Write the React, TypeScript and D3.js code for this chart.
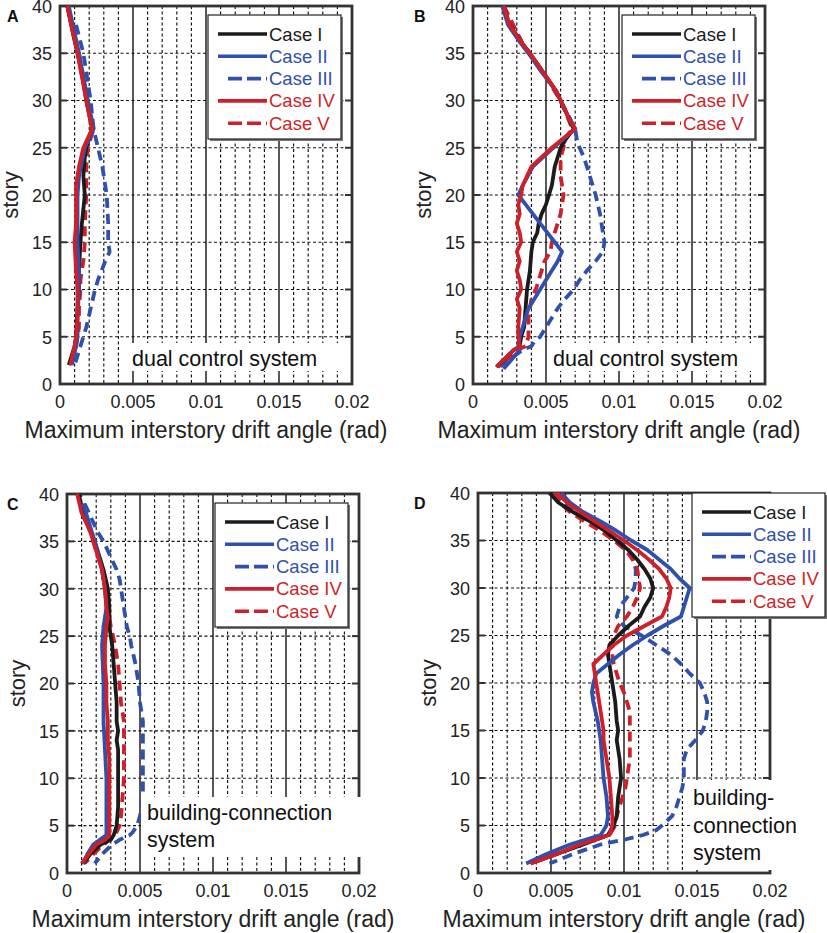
import React from 'react';
import * as d3 from 'd3';

type Pt = [number, number]; // [story, drift angle (rad)]

// ---- A: dual control system (small input) ----
const aCase1: Pt[] = [[40, 0.0005], [37, 0.0009], [35, 0.0012], [32, 0.0016], [30, 0.0018], [27, 0.0022], [25, 0.0018], [24, 0.0017], [22, 0.0016], [20, 0.0017], [17, 0.0015], [15, 0.0014], [12, 0.0013], [10, 0.0013], [8, 0.0012], [5, 0.0011], [4, 0.001], [2, 0.0006]];
const aCase2: Pt[] = [[40, 0.0006], [35, 0.0013], [30, 0.0019], [27, 0.0023], [25, 0.0017], [22, 0.0013], [20, 0.0012], [15, 0.0012], [12, 0.0013], [10, 0.0013], [7, 0.0012], [5, 0.0012], [4, 0.0011], [2, 0.0008]];
const aCase3: Pt[] = [[38, 0.0011], [35, 0.0016], [32, 0.0019], [30, 0.0021], [27, 0.0023], [25, 0.0026], [23, 0.0029], [21, 0.0031], [20, 0.0032], [17, 0.0033], [15, 0.0033], [14, 0.0034], [13, 0.0031], [11, 0.0026], [10, 0.0024], [8, 0.0021], [6, 0.0018], [5, 0.0016], [4, 0.0014], [2, 0.001]];
const aCase4: Pt[] = [[40, 0.0005], [35, 0.0012], [30, 0.0018], [27, 0.0022], [26, 0.0019], [25, 0.0016], [23, 0.0013], [21, 0.0011], [20, 0.0011], [17, 0.0011], [15, 0.001], [12, 0.0011], [10, 0.0012], [7, 0.0012], [5, 0.0011], [4, 0.001], [2, 0.0007]];
const aCase5: Pt[] = [[40, 0.0005], [35, 0.0013], [30, 0.0019], [27, 0.0023], [26, 0.0021], [25, 0.0019], [23, 0.0018], [21, 0.0018], [20, 0.0018], [17, 0.0017], [15, 0.0017], [13, 0.0016], [11, 0.0014], [10, 0.0014], [8, 0.0013], [6, 0.0013], [5, 0.0012], [4, 0.0011], [2, 0.0007]];

// ---- B: dual control system (large input) ----
const bCase1: Pt[] = [[40, 0.0021], [38, 0.0025], [36, 0.0034], [35, 0.0039], [33, 0.0048], [31, 0.0057], [30, 0.006], [28, 0.0066], [27, 0.0069], [26, 0.0064], [25, 0.006], [24, 0.0058], [23, 0.0056], [22, 0.0055], [21, 0.0054], [20, 0.0052], [19, 0.005], [18, 0.0047], [17, 0.0045], [16, 0.0044], [15, 0.0041], [14, 0.004], [12, 0.0039], [10, 0.0037], [8, 0.0036], [6, 0.0035], [5, 0.0033], [4, 0.0032], [3.6, 0.0028], [1.8, 0.0016]];
const bCase2: Pt[] = [[40, 0.002], [38, 0.0024], [36, 0.0033], [35, 0.0038], [33, 0.0047], [31, 0.0057], [30, 0.006], [28, 0.0066], [27, 0.007], [25, 0.0055], [23, 0.0041], [21, 0.0034], [20, 0.0031], [19, 0.0036], [17, 0.0046], [15, 0.0056], [14, 0.0061], [13, 0.0058], [11, 0.005], [10, 0.0046], [8, 0.0038], [6, 0.0034], [5, 0.0032], [4, 0.0031], [3.6, 0.0032], [1.6, 0.0021]];
const bCase3: Pt[] = [[40, 0.0021], [36, 0.0034], [33, 0.0048], [30, 0.006], [27, 0.007], [26, 0.0071], [25, 0.0073], [24, 0.0076], [23, 0.0078], [22, 0.008], [21, 0.0082], [20, 0.0084], [18, 0.0087], [17, 0.0088], [16, 0.0089], [15, 0.009], [14, 0.0089], [13, 0.0084], [12, 0.0078], [11, 0.0073], [10, 0.0069], [9, 0.0063], [8, 0.0058], [7, 0.0054], [6, 0.005], [5, 0.0046], [4.5, 0.0042], [4, 0.004], [3.6, 0.0034], [1.8, 0.0018]];
const bCase4: Pt[] = [[40, 0.0021], [38, 0.0025], [36, 0.0034], [35, 0.0039], [33, 0.0048], [31, 0.0057], [30, 0.006], [28, 0.0066], [27, 0.007], [25, 0.0054], [23, 0.004], [21, 0.0034], [20, 0.0033], [19, 0.0031], [18, 0.0032], [17, 0.003], [16, 0.0032], [15, 0.0033], [14, 0.003], [13, 0.0032], [12, 0.003], [11, 0.0032], [10, 0.0033], [9, 0.003], [8, 0.0032], [6, 0.0031], [5, 0.0031], [4, 0.0032], [3.9, 0.0032], [3.6, 0.0028], [1.8, 0.0016]];
const bCase5: Pt[] = [[40, 0.0021], [36, 0.0034], [33, 0.0048], [30, 0.006], [27, 0.0068], [26, 0.0063], [25, 0.0062], [24, 0.006], [22, 0.006], [20, 0.0062], [19, 0.0061], [18, 0.006], [17, 0.0058], [16, 0.0056], [15, 0.0054], [14, 0.0053], [13, 0.0049], [12, 0.0047], [11, 0.0045], [10, 0.0043], [9, 0.004], [8, 0.0039], [7, 0.0038], [6, 0.0038], [5, 0.0038], [4, 0.0036], [3.6, 0.003], [1.8, 0.0017]];

// ---- C: building-connection system (small input) ----
const cCase1: Pt[] = [[40, 0.0008], [38, 0.0011], [35, 0.0019], [32, 0.0025], [30, 0.0028], [28, 0.0029], [26, 0.0029], [24, 0.0031], [22, 0.0032], [20, 0.0033], [18, 0.0034], [16, 0.0034], [15, 0.0035], [14, 0.0034], [13, 0.0035], [10, 0.0035], [7, 0.0035], [5, 0.0034], [4, 0.0032], [3.5, 0.003], [3, 0.0023], [2, 0.0016], [1, 0.0011]];
const cCase2: Pt[] = [[39, 0.0011], [35, 0.0019], [32, 0.0024], [30, 0.0026], [28, 0.0027], [26, 0.0025], [24, 0.0024], [20, 0.0025], [16, 0.0025], [13, 0.0026], [10, 0.0027], [7, 0.0027], [5, 0.0027], [4, 0.0027], [3, 0.0018], [2, 0.0014], [1, 0.0011]];
const cCase3: Pt[] = [[39, 0.0012], [38, 0.0015], [36, 0.0021], [35, 0.0025], [34, 0.0028], [33, 0.0031], [32, 0.0034], [31, 0.0036], [30, 0.0037], [28, 0.0039], [27, 0.004], [26, 0.0041], [25, 0.0043], [24, 0.0044], [22, 0.0047], [21, 0.0048], [20, 0.0049], [18, 0.005], [17, 0.0051], [16, 0.0052], [14, 0.0052], [12, 0.0052], [10, 0.0052], [8, 0.0052], [6, 0.005], [5, 0.0048], [4.3, 0.0045], [4, 0.0043], [3.5, 0.0036], [3, 0.0031], [2, 0.0024], [1, 0.0019]];
const cCase4: Pt[] = [[40, 0.0007], [38, 0.001], [36, 0.0016], [34, 0.002], [32, 0.0024], [30, 0.0026], [28, 0.0027], [27, 0.0028], [26, 0.0027], [24, 0.0026], [22, 0.0026], [20, 0.0027], [18, 0.0027], [16, 0.0028], [14, 0.0028], [12, 0.0029], [10, 0.0029], [6, 0.0029], [4, 0.0029], [3.5, 0.0026], [3, 0.002], [2, 0.0015], [1, 0.001]];
const cCase5: Pt[] = [[40, 0.0007], [36, 0.0016], [32, 0.0024], [30, 0.0026], [28, 0.0028], [26, 0.003], [24, 0.0033], [22, 0.0035], [20, 0.0036], [18, 0.0037], [16, 0.0039], [14, 0.0039], [12, 0.0039], [10, 0.0039], [8, 0.0038], [6, 0.0037], [5, 0.0036], [4, 0.0033], [3, 0.0025], [2, 0.0018], [1, 0.0012]];

// ---- D: building-connection system (large input) ----
const dCase1: Pt[] = [[40, 0.0049], [39, 0.0055], [38, 0.0065], [37, 0.0077], [36, 0.0087], [35, 0.0095], [34, 0.0103], [33, 0.0109], [32, 0.0114], [31, 0.0118], [30, 0.012], [29, 0.0118], [28, 0.0114], [27, 0.0111], [26, 0.0103], [25, 0.0096], [24, 0.009], [23, 0.0089], [22, 0.009], [20, 0.0092], [18, 0.0094], [16, 0.0095], [15, 0.0096], [14, 0.0095], [12, 0.0097], [10, 0.0098], [9, 0.0097], [8, 0.0096], [6, 0.0095], [5, 0.0093], [4, 0.0089], [3, 0.0072], [2, 0.0054], [1, 0.0036]];
const dCase2: Pt[] = [[40, 0.0057], [39, 0.0063], [38, 0.0072], [37, 0.0084], [36, 0.0095], [35, 0.0105], [34, 0.0116], [33, 0.0124], [32, 0.0132], [31, 0.0138], [30, 0.0145], [29, 0.0143], [28, 0.0141], [27, 0.0139], [26, 0.0127], [25, 0.0116], [24, 0.0106], [23, 0.0097], [22, 0.0089], [21, 0.0081], [20, 0.0079], [19, 0.0078], [18, 0.0079], [16, 0.0082], [15, 0.0083], [14, 0.0084], [12, 0.0085], [10, 0.0086], [8, 0.0088], [6, 0.0089], [5, 0.0088], [4, 0.0084], [3, 0.0063], [2, 0.0047], [1, 0.0033]];
const dCase3: Pt[] = [[40, 0.0052], [39, 0.0057], [38, 0.0066], [37, 0.0078], [36, 0.0088], [35, 0.0096], [34, 0.0103], [33, 0.0106], [32, 0.0108], [31, 0.0108], [30, 0.0107], [29, 0.0102], [28, 0.0097], [27, 0.0095], [26, 0.01], [25, 0.0112], [24, 0.0122], [23, 0.0132], [22, 0.0139], [21, 0.0145], [20, 0.0152], [19, 0.0155], [18, 0.0157], [17, 0.0157], [16, 0.0156], [15, 0.0154], [14, 0.0149], [13, 0.0143], [12, 0.0141], [10, 0.0141], [9, 0.014], [8, 0.0138], [7, 0.0136], [6, 0.0133], [5, 0.0126], [4.5, 0.0122], [4, 0.0113], [3.5, 0.01], [3, 0.0084], [2, 0.0065], [1, 0.0049]];
const dCase4: Pt[] = [[40, 0.0054], [39, 0.0061], [38, 0.007], [37, 0.008], [36, 0.009], [35, 0.01], [34, 0.0109], [33, 0.0117], [32, 0.0124], [31, 0.0129], [30, 0.0132], [29, 0.0131], [28, 0.0129], [27, 0.0126], [26, 0.0114], [25, 0.0102], [24, 0.0093], [23, 0.0086], [22, 0.0079], [21, 0.008], [20, 0.0081], [18, 0.0083], [16, 0.0085], [15, 0.0086], [14, 0.0086], [12, 0.0088], [10, 0.009], [8, 0.0091], [6, 0.0092], [5, 0.0092], [4, 0.009], [3, 0.007], [2, 0.0054], [1, 0.0036]];
const dCase5: Pt[] = [[40, 0.0052], [39, 0.0056], [38, 0.0063], [37, 0.0073], [36, 0.0084], [35, 0.0093], [34, 0.0101], [33, 0.0106], [32, 0.0109], [31, 0.011], [30, 0.0111], [29, 0.0109], [28, 0.0106], [27, 0.0102], [26, 0.0096], [25, 0.0093], [24, 0.0092], [23, 0.0092], [22, 0.0093], [21, 0.0095], [20, 0.0097], [19, 0.01], [18, 0.0102], [17, 0.0104], [16, 0.0104], [14, 0.0104], [12, 0.0104], [10, 0.0102], [9, 0.0101], [8, 0.0099], [7, 0.0097], [6, 0.0095], [5, 0.0094], [4, 0.009], [3, 0.007], [2, 0.0054], [1, 0.0036]];

const caseNames = ['Case I', 'Case II', 'Case III', 'Case IV', 'Case V'];
const caseColors = ['#1b1b1b', '#2f50ad', '#2f50ad', '#cf1f28', '#cf1f28'];
const caseDashed = [false, false, true, false, true];
const drawOrder = [2, 4, 0, 1, 3];

const xTicks = [0, 0.005, 0.01, 0.015, 0.02];
const xTickLabels = ['0', '0.005', '0.01', '0.015', '0.02'];
const yTicks = [0, 5, 10, 15, 20, 25, 30, 35, 40];
const xTitle = 'Maximum interstory drift angle (rad)';
const yTitle = 'story';

const FONT = '"Liberation Sans", Arial, Helvetica, sans-serif';

interface PanelDef {
  letter: string;
  left: number; top: number; right: number; bottom: number;
  series: Pt[][];
  note: string[];
  noteBox: [number, number, number, number]; // x, y, w, h relative to left/bottom
  noteX: number;
  noteBase: number[];
  legendX: number; legendY: number;
}

const panels: PanelDef[] = [
  { letter: 'A', left: 60, top: 6, right: 352, bottom: 384, series: [aCase1, aCase2, aCase3, aCase4, aCase5],
    note: ['dual control system'], noteBox: [68, -41, 212, 28], noteX: 72, noteBase: [-18], legendX: 148, legendY: 9 },
  { letter: 'B', left: 473, top: 6, right: 765, bottom: 384, series: [bCase1, bCase2, bCase3, bCase4, bCase5],
    note: ['dual control system'], noteBox: [76, -41, 212, 28], noteX: 80, noteBase: [-18], legendX: 149, legendY: 9 },
  { letter: 'C', left: 67, top: 494, right: 359, bottom: 873, series: [cCase1, cCase2, cCase3, cCase4, cCase5],
    note: ['building-connection', 'system'], noteBox: [74, -76, 223, 60], noteX: 80, noteBase: [-53, -26], legendX: 148, legendY: 9 },
  { letter: 'D', left: 478, top: 493, right: 770, bottom: 873, series: [dCase1, dCase2, dCase3, dCase4, dCase5],
    note: ['building-', 'connection', 'system'], noteBox: [212, -93, 122, 90], noteX: 215, noteBase: [-68, -40, -13], legendX: 214, legendY: 0 },
];

const Panel: React.FC<{ p: PanelDef }> = ({ p }) => {
  const x = d3.scaleLinear().domain([0, 0.02]).range([p.left, p.right]);
  const y = d3.scaleLinear().domain([0, 40]).range([p.bottom, p.top]);
  const line = d3.line<Pt>().x(d => x(d[1])).y(d => y(d[0])).curve(d3.curveLinear);
  const minor = d3.range(1, 20).map(i => i * 0.001).filter(v => Math.abs((v / 0.005) - Math.round(v / 0.005)) > 1e-6);
  const majorInner = xTicks.slice(1, -1);
  const lx = p.left + p.legendX;
  const ly = p.top + p.legendY;
  const lw = 133;
  const lh = 124;

  return (
    <g>
      {/* minor dashed grid */}
      {minor.map(v => (
        <line key={'mx' + v} x1={x(v)} x2={x(v)} y1={p.top} y2={p.bottom} stroke="#111" strokeWidth={1.15} strokeDasharray="3,2.5" />
      ))}
      {yTicks.slice(1, -1).map(s => (
        <line key={'gy' + s} x1={p.left} x2={p.right} y1={y(s)} y2={y(s)} stroke="#111" strokeWidth={1.15} strokeDasharray="3,2.5" />
      ))}
      {majorInner.map(v => (
        <line key={'Mx' + v} x1={x(v)} x2={x(v)} y1={p.top} y2={p.bottom} stroke="#111" strokeWidth={1.4} />
      ))}
      {/* edge ticks */}
      {yTicks.slice(1, -1).map(s => (
        <g key={'ty' + s}>
          <line x1={p.left} x2={p.left + 7} y1={y(s)} y2={y(s)} stroke="#333" strokeWidth={2} />
          <line x1={p.right - 7} x2={p.right} y1={y(s)} y2={y(s)} stroke="#333" strokeWidth={2} />
        </g>
      ))}
      {/* frame */}
      <rect x={p.left} y={p.top} width={p.right - p.left} height={p.bottom - p.top} fill="none" stroke="#333" strokeWidth={2.8} />

      {/* data */}
      {drawOrder.map(i => (
        <path key={'s' + i} d={line(p.series[i]) || ''} fill="none" stroke={caseColors[i]} strokeWidth={3.8}
          strokeDasharray={caseDashed[i] ? '10,6' : undefined} strokeLinejoin="round" strokeLinecap="butt" />
      ))}

      {/* note box */}
      <rect x={p.left + p.noteBox[0]} y={p.bottom + p.noteBox[1]} width={p.noteBox[2]} height={p.noteBox[3]} fill="#fff" />
      {p.note.map((t, i) => (
        <text key={'n' + i} x={p.left + p.noteX} y={p.bottom + p.noteBase[i]} fontFamily={FONT} fontSize={21.5} fill="#111">{t}</text>
      ))}

      {/* legend */}
      <rect x={lx + 2} y={ly + 2} width={lw} height={lh} fill="#777" />
      <rect x={lx} y={ly} width={lw} height={lh} fill="#fff" stroke="#222" strokeWidth={1.2} />
      {caseNames.map((name, i) => {
        const ry = ly + 19 + i * 22.3;
        return (
          <g key={'lg' + i}>
            <line x1={lx + (caseDashed[i] ? 20 : 10)} x2={lx + 59} y1={ry} y2={ry} stroke={caseColors[i]} strokeWidth={3.6}
              strokeDasharray={caseDashed[i] ? '14,5' : undefined} />
            <text x={lx + 61} y={ry + 6.5} fontFamily={FONT} fontSize={18.5} fill={caseColors[i]}>{name}</text>
          </g>
        );
      })}

      {/* axes labels */}
      {yTicks.map(s => (
        <text key={'yl' + s} x={p.left - 8} y={y(s) + 6.8} textAnchor="end" fontFamily={FONT} fontSize={18} fill="#222">{s}</text>
      ))}
      {xTicks.map((v, i) => (
        <text key={'xl' + v} x={x(v)} y={p.bottom + 24} textAnchor="middle" fontFamily={FONT} fontSize={18} fill="#222">{xTickLabels[i]}</text>
      ))}
      <text x={(p.left + p.right) / 2} y={p.bottom + 54} textAnchor="middle" fontFamily={FONT} fontSize={23} fill="#222">{xTitle}</text>
      <text transform={`translate(${p.left - 42},${(p.top + p.bottom) / 2}) rotate(-90)`} textAnchor="middle" fontFamily={FONT} fontSize={22} fill="#222">{yTitle}</text>
      <text x={p.left < 200 ? 7 : 414} y={p.top + 16} fontFamily={FONT} fontSize={16} fontWeight="bold" fill="#111">{p.letter}</text>
    </g>
  );
};

export default function App() {
  return (
    <svg width={827} height={933} viewBox="0 0 827 933" style={{ position: 'absolute', left: 0, top: 0, background: '#fff' }}>
      <rect x={0} y={0} width={827} height={933} fill="#fff" />
      {panels.map(p => <Panel key={p.letter} p={p} />)}
    </svg>
  );
}
